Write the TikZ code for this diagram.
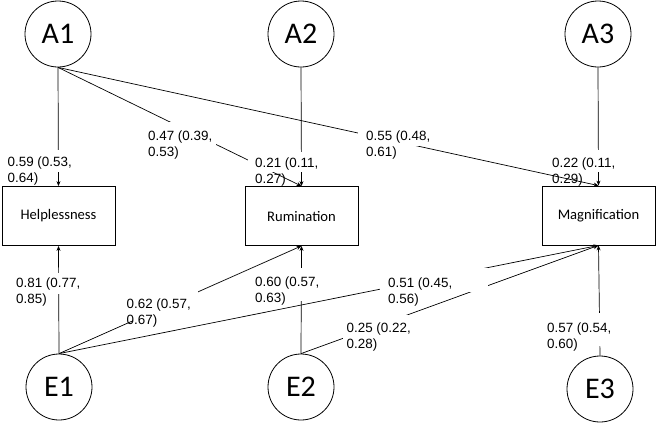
\documentclass[tikz,border=0pt]{standalone}
\usepackage{fontspec}
\setmainfont{Liberation Sans}
\newfontfamily\calib{Carlito}
\usetikzlibrary{arrows.meta,fit}
\begin{document}
\begin{tikzpicture}[x=1pt,y=-1pt,
  latent/.style={circle,draw,line width=0.8pt,minimum size=66pt,inner sep=0pt,font=\calib\fontsize{30}{36}\selectfont},
  obs/.style={rectangle,draw,line width=0.8pt,minimum width=113pt,minimum height=59pt,inner sep=0pt,font=\calib\fontsize{14.6}{17}\selectfont},
  link/.style={line width=0.7pt,-{Stealth[length=5pt,width=4pt]}},
  mask/.style={fill=white,inner sep=0pt,draw=none},
  lab/.style={anchor=base west,inner sep=0pt,align=left,font=\fontsize{13.4}{15.8}\selectfont}]
\useasboundingbox (0,0) rectangle (656,424);
% latent variables
\node[latent] (A1) at (58,34) {A1};
\node[latent] (A2) at (301,34) {A2};
\node[latent] (A3) at (598,34) {A3};
\node[latent] (E1) at (59,387) {E1};
\node[latent] (E2) at (301,387) {E2};
\node[latent] (E3) at (600,389) {E3};
% observed variables
\node[obs] (help) at (58.5,216) {Helplessness};
\node[obs] (rum) at (301.5,216) {Rumination};
\node[obs] (mag) at (598.5,215.5) {Magnification};
% paths
\draw[link] (A1.south) -- (help.north);
\draw[link] (A1.south) -- (rum.north);
\draw[link] (A1.south) -- (mag.north);
\draw[link] (A2.south) -- (rum.north);
\draw[link] (A3.south) -- (mag.north);
\draw[link] (E1.north) -- (help.south);
\draw[link] (E1.north) -- (rum.south);
\draw[link] (E1.north) -- (mag.south);
\draw[link] (E2.north) -- (rum.south);
\draw[link] (E2.north) -- (mag.south);
\draw[link] (E3.north) -- (mag.south);
% white label backgrounds
\node[mask, fit={(5,150) (75,172)}] (m1) {};
\node[mask, fit={(144,122) (216,158)}] (m2) {};
\node[mask, fit={(248,152) (320,172)}] (m3) {};
\node[mask, fit={(358,127) (434,146)}] (m4) {};
\node[mask, fit={(548,150) (618,172)}] (m5) {};
\node[mask, fit={(12,273) (80,294)}] (m6) {};
\node[mask, fit={(133,291) (198,321)}] (m7) {};
\node[mask, fit={(253,268) (316,300.5)}] (m8) {};
\node[mask, fit={(380,268) (488,292)}] (m9) {};
\node[mask, fit={(343,315) (412,348)}] (m10) {};
\node[mask, fit={(545,313) (615,346)}] (m11) {};
% labels (anchor = baseline of last line)
\node[lab] (l1) at (7.5,182.6) {0.59 (0.53,\\0.64)};
\node[lab] (l2) at (148,156.6) {0.47 (0.39,\\0.53)};
\node[lab] (l3) at (255,183.1) {0.21 (0.11,\\0.27)};
\node[lab] (l4) at (366,156.6) {0.55 (0.48,\\0.61)};
\node[lab] (l5) at (552,183.1) {0.22 (0.11,\\0.29)};
\node[lab] (l6) at (16,303.1) {0.81 (0.77,\\0.85)};
\node[lab] (l7) at (126.5,324.6) {0.62 (0.57,\\0.67)};
\node[lab] (l8) at (255,302.6) {0.60 (0.57,\\0.63)};
\node[lab] (l9) at (388,303.6) {0.51 (0.45,\\0.56)};
\node[lab] (l10) at (346.5,348.6) {0.25 (0.22,\\0.28)};
\node[lab] (l11) at (547,348.6) {0.57 (0.54,\\0.60)};
\end{tikzpicture}
\end{document}
